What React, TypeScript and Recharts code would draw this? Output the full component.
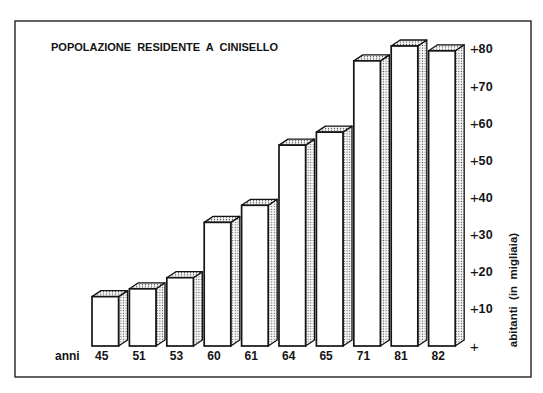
import React from 'react';
import { BarChart, Bar, XAxis, YAxis, Customized } from 'recharts';

const years = ['45', '51', '53', '60', '61', '64', '65', '71', '81', '82'];
const residents = [13.3, 15.4, 18.4, 33.3, 37.9, 54.1, 57.6, 76.8, 80.8, 79.5];
const yTicks = [0, 10, 20, 30, 40, 50, 60, 70, 80];

const title = 'POPOLAZIONE  RESIDENTE  A  CINISELLO';
const yAxisTitle = 'abitanti  (in  migliaia)';
const xAxisTitle = 'anni';

const data = years.map((y, i) => ({ year: y, value: residents[i] }));

const FONT = '"Liberation Sans", Arial, Helvetica, sans-serif';
const INK = '#141414';
const DX = 9;
const DY = 6;

const Bar3D = (props: any) => {
  const { x, y, width, height } = props;
  const fw = width - 10.4;
  const x2 = x + fw;
  const yb = y + height;
  return (
    <g>
      <polygon
        points={`${x2},${y} ${x2 + DX},${y - DY} ${x2 + DX},${yb - DY} ${x2},${yb}`}
        fill="url(#stipple)"
        stroke={INK}
        strokeWidth={1.3}
        strokeLinejoin="round"
      />
      <polygon
        points={`${x},${y} ${x + DX},${y - DY} ${x2 + DX},${y - DY} ${x2},${y}`}
        fill="url(#stipple2)"
        stroke={INK}
        strokeWidth={1.3}
        strokeLinejoin="round"
      />
      <rect x={x} y={y} width={fw} height={height} fill="#fff" stroke={INK} strokeWidth={1.7} />
    </g>
  );
};

const YTick = (props: any) => {
  const { x, y, payload } = props;
  return (
    <g>
      <text x={x + 8.5} y={y} textAnchor="middle" dominantBaseline="central" fontFamily={FONT} fontSize={15} fontWeight={300} fill={INK}>
        +
      </text>
      {payload.value !== 0 && (
        <text x={x + 12.5} y={y + 4.5} textAnchor="start" fontFamily={FONT} fontSize={12.5} fontWeight="bold" fill={INK} letterSpacing={0.4}>
          {payload.value}
        </text>
      )}
    </g>
  );
};

const XTick = (props: any) => {
  const { x, y, payload } = props;
  return (
    <text x={x - 9} y={y + 14} textAnchor="middle" fontFamily={FONT} fontSize={12} fontWeight="bold" fill={INK}>
      {payload.value}
    </text>
  );
};

const Decorations = () => (
  <g>
    <defs>
      <pattern id="stipple" width="2.6" height="2.6" patternUnits="userSpaceOnUse">
        <rect width="2.6" height="2.6" fill="#fafafa" />
        <circle cx="1.3" cy="1.3" r="0.65" fill="#555" />
      </pattern>
      <pattern id="stipple2" width="3" height="2.4" patternUnits="userSpaceOnUse">
        <rect width="3" height="2.4" fill="#f6f6f6" />
        <circle cx="1.5" cy="1.2" r="0.7" fill="#555" />
      </pattern>
    </defs>
    <rect x={15} y={21} width={516} height={356} fill="none" stroke="#222" strokeWidth={1.4} />
    <text x={51} y={51} fontFamily={FONT} fontSize={11} fontWeight="bold" fill={INK} style={{ whiteSpace: 'pre' }}>
      {title}
    </text>
    <text x={55} y={360} fontFamily={FONT} fontSize={12} fontWeight="bold" fill={INK}>
      {xAxisTitle}
    </text>
    <text
      x={517}
      y={290}
      transform="rotate(-90 517 290)"
      textAnchor="middle"
      fontFamily={FONT}
      fontSize={11.5}
      fontWeight="bold"
      fill={INK}
      style={{ whiteSpace: 'pre' }}
    >
      {yAxisTitle}
    </text>
  </g>
);

export default function App() {
  return (
    <div style={{ position: 'absolute', left: 0, top: 0, width: 543, height: 393, background: '#fff' }}>
      <BarChart
        width={543}
        height={393}
        data={data}
        margin={{ top: 46, right: 17, bottom: 17, left: 92 }}
        barCategoryGap={0}
        barGap={0}
      >
        <Customized component={Decorations} />
        <XAxis
          dataKey="year"
          axisLine={false}
          tickLine={false}
          tickSize={0}
          tickMargin={0}
          height={30}
          interval={0}
          tick={<XTick />}
        />
        <YAxis
          orientation="right"
          domain={[0, 80]}
          ticks={yTicks}
          axisLine={false}
          tickLine={false}
          tickSize={0}
          tickMargin={0}
          width={60}
          interval={0}
          tick={<YTick />}
        />
        <Bar dataKey="value" shape={<Bar3D />} isAnimationActive={false} />
      </BarChart>
    </div>
  );
}
